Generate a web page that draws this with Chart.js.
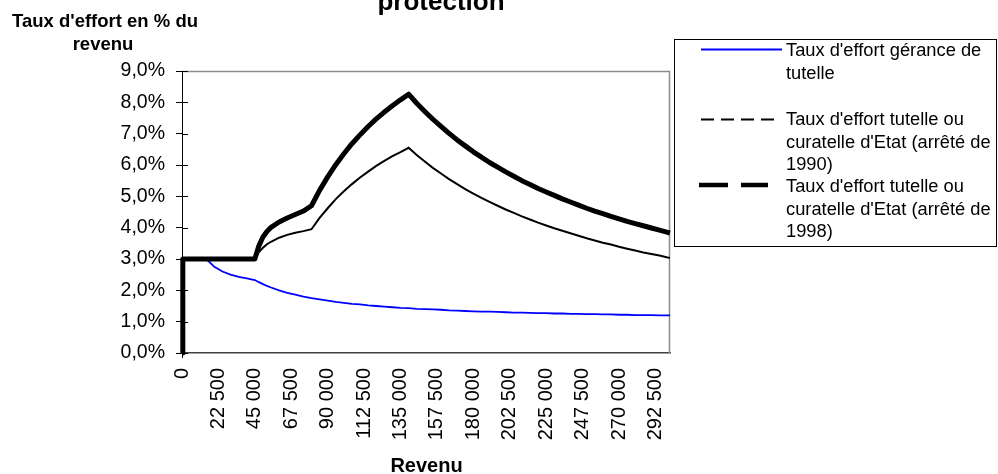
<!DOCTYPE html>
<html>
<head>
<meta charset="utf-8">
<script src="https://cdn.jsdelivr.net/npm/chart.js@4/dist/chart.umd.min.js"></script>
<style>
html,body{margin:0;padding:0;background:#fff;overflow:hidden}
#wrap{width:998px;height:474px;position:relative}
canvas{display:block}
</style>
</head>
<body>
<div id="wrap"><canvas id="c" width="998" height="474"></canvas></div>
<script>
// ---- Data ----
const revenus = [0, 500, 5000, 10000, 15000, 20000, 25000, 30000, 35000, 40000, 45000,
  47500, 50000, 52500, 55000, 60000, 65000, 70000, 75000, 80000,
  85000, 90000, 95000, 100000, 105000, 110000, 115000, 120000, 125000, 130000, 135000, 140000,
  145000, 150000, 155000, 160000, 165000, 170000, 175000, 180000, 185000, 190000, 195000, 200000,
  205000, 210000, 215000, 220000, 225000, 230000, 235000, 240000, 245000, 250000,
  255000, 260000, 265000, 270000, 275000, 280000, 285000, 290000, 295000, 300000, 301500];

const tauxGerance = [0, 3.00, 3.00, 3.00, 3.00, 2.75, 2.60, 2.50, 2.43, 2.38, 2.33,
  2.26, 2.20, 2.14, 2.09, 2.00, 1.92, 1.86, 1.80, 1.75,
  1.71, 1.67, 1.63, 1.60, 1.57, 1.55, 1.52, 1.50, 1.48, 1.46, 1.44, 1.43,
  1.41, 1.40, 1.39, 1.38, 1.36, 1.35, 1.34, 1.33, 1.32, 1.32, 1.31, 1.30,
  1.29, 1.29, 1.28, 1.27, 1.27, 1.26, 1.26, 1.25, 1.25, 1.24,
  1.24, 1.23, 1.23, 1.22, 1.22, 1.21, 1.21, 1.21, 1.20, 1.20, 1.20];

const tauxArrete1990 = [0, 3.00, 3.00, 3.00, 3.00, 3.00, 3.00, 3.00, 3.00, 3.00, 3.00,
  3.22, 3.36, 3.47, 3.55, 3.68, 3.77, 3.84, 3.89, 3.95,
  4.31, 4.62, 4.91, 5.16, 5.39, 5.60, 5.79, 5.97, 6.13, 6.28, 6.41, 6.55,
  6.32, 6.11, 5.91, 5.73, 5.55, 5.39, 5.23, 5.09, 4.95, 4.82, 4.70, 4.58,
  4.47, 4.36, 4.26, 4.16, 4.07, 3.98, 3.90, 3.82, 3.74, 3.66,
  3.59, 3.52, 3.46, 3.39, 3.33, 3.27, 3.21, 3.16, 3.11, 3.05, 3.04];

const tauxArrete1998 = [0, 3.00, 3.00, 3.00, 3.00, 3.00, 3.00, 3.00, 3.00, 3.00, 3.00,
  3.42, 3.70, 3.88, 4.01, 4.18, 4.31, 4.42, 4.53, 4.70,
  5.19, 5.62, 6.01, 6.36, 6.68, 6.96, 7.23, 7.47, 7.69, 7.89, 8.08, 8.26,
  7.97, 7.71, 7.46, 7.23, 7.01, 6.80, 6.61, 6.42, 6.25, 6.08, 5.93, 5.78,
  5.64, 5.50, 5.38, 5.25, 5.14, 5.03, 4.92, 4.82, 4.72, 4.62,
  4.53, 4.45, 4.36, 4.28, 4.20, 4.13, 4.06, 3.99, 3.92, 3.85, 3.83];

const xTicks = [0, 22500, 45000, 67500, 90000, 112500, 135000, 157500, 180000, 202500, 225000, 247500, 270000, 292500];
const yTicks = [0, 1, 2, 3, 4, 5, 6, 7, 8, 9];

const titleText = 'protection';
const yAxisTitle = ["Taux d'effort en % du", 'revenu'];
const xAxisTitle = 'Revenu';
const legendLabels = [
  ["Taux d'effort gérance de", 'tutelle'],
  ["Taux d'effort tutelle ou", "curatelle d'Etat (arrêté de", '1990)'],
  ["Taux d'effort tutelle ou", "curatelle d'Etat (arrêté de", '1998)']
];

// ---- Chart ----
const FONT = "'Liberation Sans', Arial, sans-serif";
Chart.defaults.font.family = FONT;
Chart.defaults.color = '#000';

const pts = arr => revenus.map((r, i) => ({x: r, y: arr[i]}));
const fmtNum = v => String(v).replace(/\B(?=(\d{3})+(?!\d))/g, ' ');

const frame = {
  id: 'frame',
  beforeDatasetsDraw(chart) {
    const {ctx, chartArea: a} = chart;
    const ys = chart.scales.y;
    ctx.save();
    ctx.strokeStyle = '#8c8c8c';
    ctx.lineWidth = 1.5;
    ctx.beginPath();
    ctx.moveTo(a.left, a.top + 0.5);
    ctx.lineTo(a.right - 0.5, a.top + 0.5);
    ctx.lineTo(a.right - 0.5, a.bottom);
    ctx.stroke();
    // inner part of crossing y ticks
    ctx.strokeStyle = '#000';
    ctx.lineWidth = 1;
    ctx.beginPath();
    yTicks.forEach(v => {
      const y = Math.round(ys.getPixelForValue(v)) + 0.5;
      ctx.moveTo(a.left, y);
      ctx.lineTo(a.left + 6, y);
    });
    ctx.stroke();
    ctx.restore();
  },
  afterDraw(chart) {
    const ctx = chart.ctx;
    ctx.save();
    // title fragment
    ctx.fillStyle = '#000';
    ctx.textAlign = 'center';
    ctx.textBaseline = 'alphabetic';
    ctx.font = 'bold 26px ' + FONT;
    ctx.fillText(titleText, 441, 10);
    // y axis title
    ctx.font = 'bold 18.5px ' + FONT;
    ctx.fillText(yAxisTitle[0], 105, 26.5);
    ctx.fillText(yAxisTitle[1], 103, 50);
    // x axis title
    ctx.font = 'bold 20px ' + FONT;
    ctx.fillText(xAxisTitle, 426.5, 471.5);

    // legend
    ctx.fillStyle = '#fff';
    ctx.fillRect(674.5, 39.5, 322, 207);
    ctx.strokeStyle = '#000';
    ctx.lineWidth = 1;
    ctx.strokeRect(674.5, 39.5, 322, 207);
    const samples = [
      {color: '#0000ff', width: 1.8, dash: [], x0: 701, x1: 782, y: 49.5},
      {color: '#000', width: 2, dash: [13, 7], x0: 701, x1: 776, y: 119.5},
      {color: '#000', width: 4.5, dash: [29, 13], x0: 699, x1: 768, y: 185}
    ];
    const textY = [[51, 73.5], [119.5, 142.5, 164.5], [186.5, 209.5, 231.5]];
    samples.forEach((s, i) => {
      ctx.strokeStyle = s.color;
      ctx.lineWidth = s.width;
      ctx.setLineDash(s.dash);
      ctx.beginPath();
      ctx.moveTo(s.x0, s.y);
      ctx.lineTo(s.x1, s.y);
      ctx.stroke();
      ctx.setLineDash([]);
      ctx.fillStyle = '#000';
      ctx.font = '18.3px ' + FONT;
      ctx.textAlign = 'left';
      ctx.textBaseline = 'middle';
      legendLabels[i].forEach((t, j) => ctx.fillText(t, 786, textY[i][j]));
    });
    ctx.restore();
  }
};

new Chart(document.getElementById('c'), {
  type: 'line',
  data: {
    datasets: [
      {label: legendLabels[0].join(' '), data: pts(tauxGerance), borderColor: '#0000ff', borderWidth: 1.8, order: 2, clip: false},
      {label: legendLabels[1].join(' '), data: pts(tauxArrete1990), borderColor: '#000', borderWidth: 2, order: 1, clip: false},
      {label: legendLabels[2].join(' '), data: pts(tauxArrete1998), borderColor: '#000', borderWidth: 5, order: 0, clip: false, borderJoinStyle: 'round'}
    ]
  },
  options: {
    responsive: false,
    animation: false,
    devicePixelRatio: 1,
    layout: {padding: {left: 0, top: 71, right: 328, bottom: 0}},
    elements: {point: {radius: 0}, line: {tension: 0, fill: false}},
    plugins: {legend: {display: false}, tooltip: {enabled: false}, title: {display: false}},
    scales: {
      x: {
        type: 'linear',
        min: 0,
        max: 301500,
        afterBuildTicks: s => { s.ticks = xTicks.map(v => ({value: v})); },
        afterFit: s => { s.height = 121; },
        ticks: {
          autoSkip: false,
          minRotation: 90,
          maxRotation: 90,
          padding: 10,
          font: {size: 20},
          callback: v => fmtNum(v)
        },
        grid: {
          drawOnChartArea: false,
          drawTicks: true,
          tickLength: 5,
          color: c => (c.tick && c.tick.value === 0) ? '#000' : 'rgba(0,0,0,0)'
        },
        border: {color: '#404040', width: 1.5}
      },
      y: {
        type: 'linear',
        min: 0,
        max: 9,
        afterBuildTicks: s => { s.ticks = yTicks.map(v => ({value: v})); },
        afterFit: s => { s.width = 182; },
        ticks: {
          padding: 11,
          font: {size: 19.5},
          callback: v => v.toFixed(1).replace('.', ',') + '%'
        },
        grid: {drawOnChartArea: false, drawTicks: true, tickLength: 6, color: '#000'},
        border: {color: '#000', width: 1}
      }
    }
  },
  plugins: [frame]
});
</script>
</body>
</html>
